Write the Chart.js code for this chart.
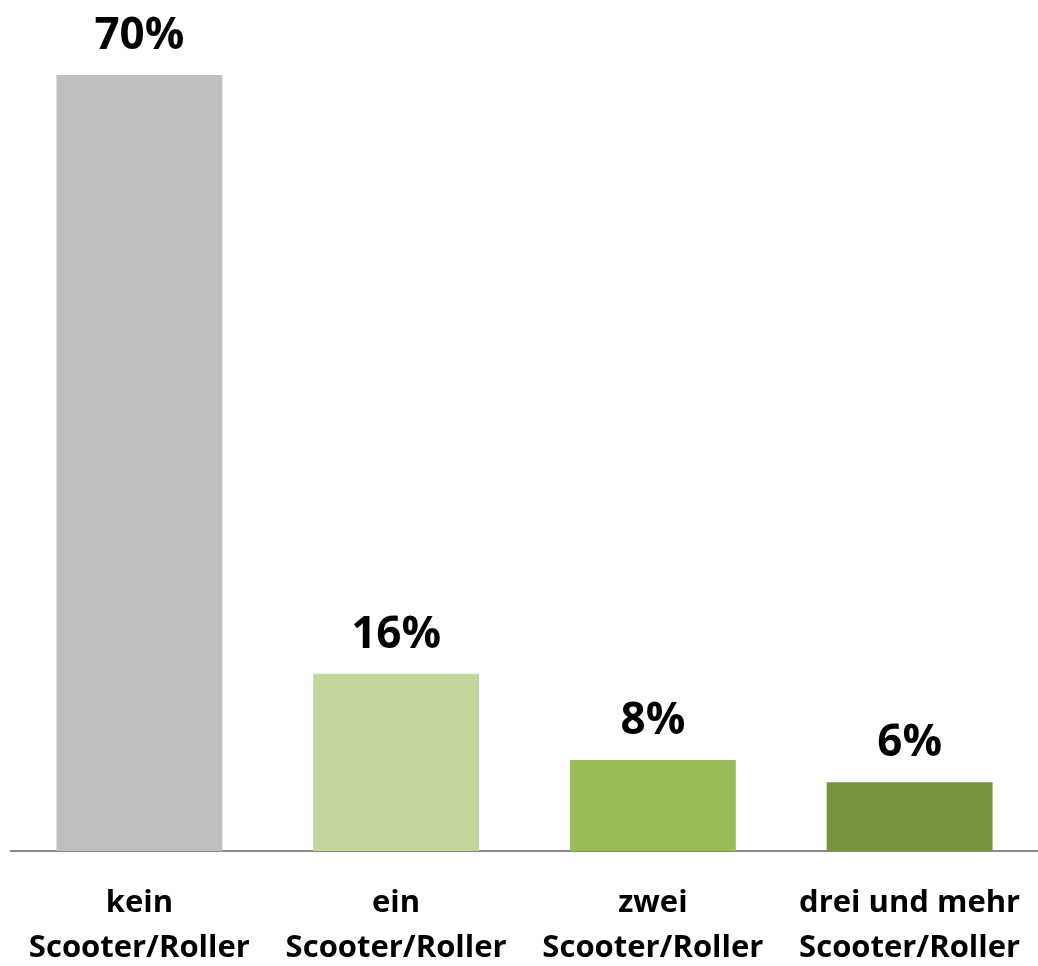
<!DOCTYPE html>
<html>
<head>
<meta charset="utf-8">
<script src="https://cdn.jsdelivr.net/npm/chart.js@4"></script>
<style>
  html, body { margin: 0; padding: 0; background: #fff; }
  #wrap { width: 1038px; height: 966px; }
</style>
</head>
<body>
<div id="wrap"><canvas id="chart"></canvas></div>
<script>
// Kategorien und Werte
const categories = [
    ['kein', 'Scooter/Roller'],
    ['ein', 'Scooter/Roller'],
    ['zwei', 'Scooter/Roller'],
    ['drei und mehr', 'Scooter/Roller'],
];
const shares = [70, 16, 8.2, 6.2];
const barColors = ['#bfbfbf', '#c3d69b', '#9bbb59', '#77933c'];

const fontFamily = '"Open Sans", "Liberation Sans", sans-serif';

// Prozentwerte über den Balken
const valueLabels = {
    id: 'valueLabels',
    afterDatasetsDraw(chart) {
        const ctx = chart.ctx;
        const meta = chart.getDatasetMeta(0);
        ctx.save();
        ctx.font = 'bold 44px ' + fontFamily;
        ctx.fillStyle = '#000';
        ctx.textAlign = 'center';
        ctx.textBaseline = 'alphabetic';
        meta.data.forEach((bar, i) => {
            ctx.fillText(Math.round(shares[i]) + '%', bar.x, bar.y - 26);
        });
        ctx.restore();
    },
};

const ctx = document.getElementById('chart').getContext('2d');
const chart = new Chart(ctx, {
    type: 'bar',
    data: {
        labels: categories,
        datasets: [{
            data: shares,
            backgroundColor: barColors,
            borderWidth: 0,
            categoryPercentage: 1,
            barPercentage: 0.646,
        }],
    },
    options: {
        responsive: true,
        maintainAspectRatio: false,
        animation: false,
        layout: { padding: { top: 75, left: 11, right: 0, bottom: 0 } },
        plugins: { legend: { display: false }, tooltip: { enabled: false } },
        scales: {
            x: {
                grid: { display: false },
                border: { display: true, color: '#898989', width: 2 },
                ticks: {
                    color: '#000',
                    padding: 22,
                    maxRotation: 0,
                    autoSkip: false,
                    font: { family: fontFamily, size: 31, weight: 'bold', lineHeight: '45px' },
                },
                afterFit(scale) {
                    scale.height = 115;
                    scale.paddingLeft = 0;
                    scale.paddingRight = 0;
                },
            },
            y: {
                display: false,
                min: 0,
                max: 70,
            },
        },
    },
    plugins: [valueLabels],
});
</script>
</body>
</html>
